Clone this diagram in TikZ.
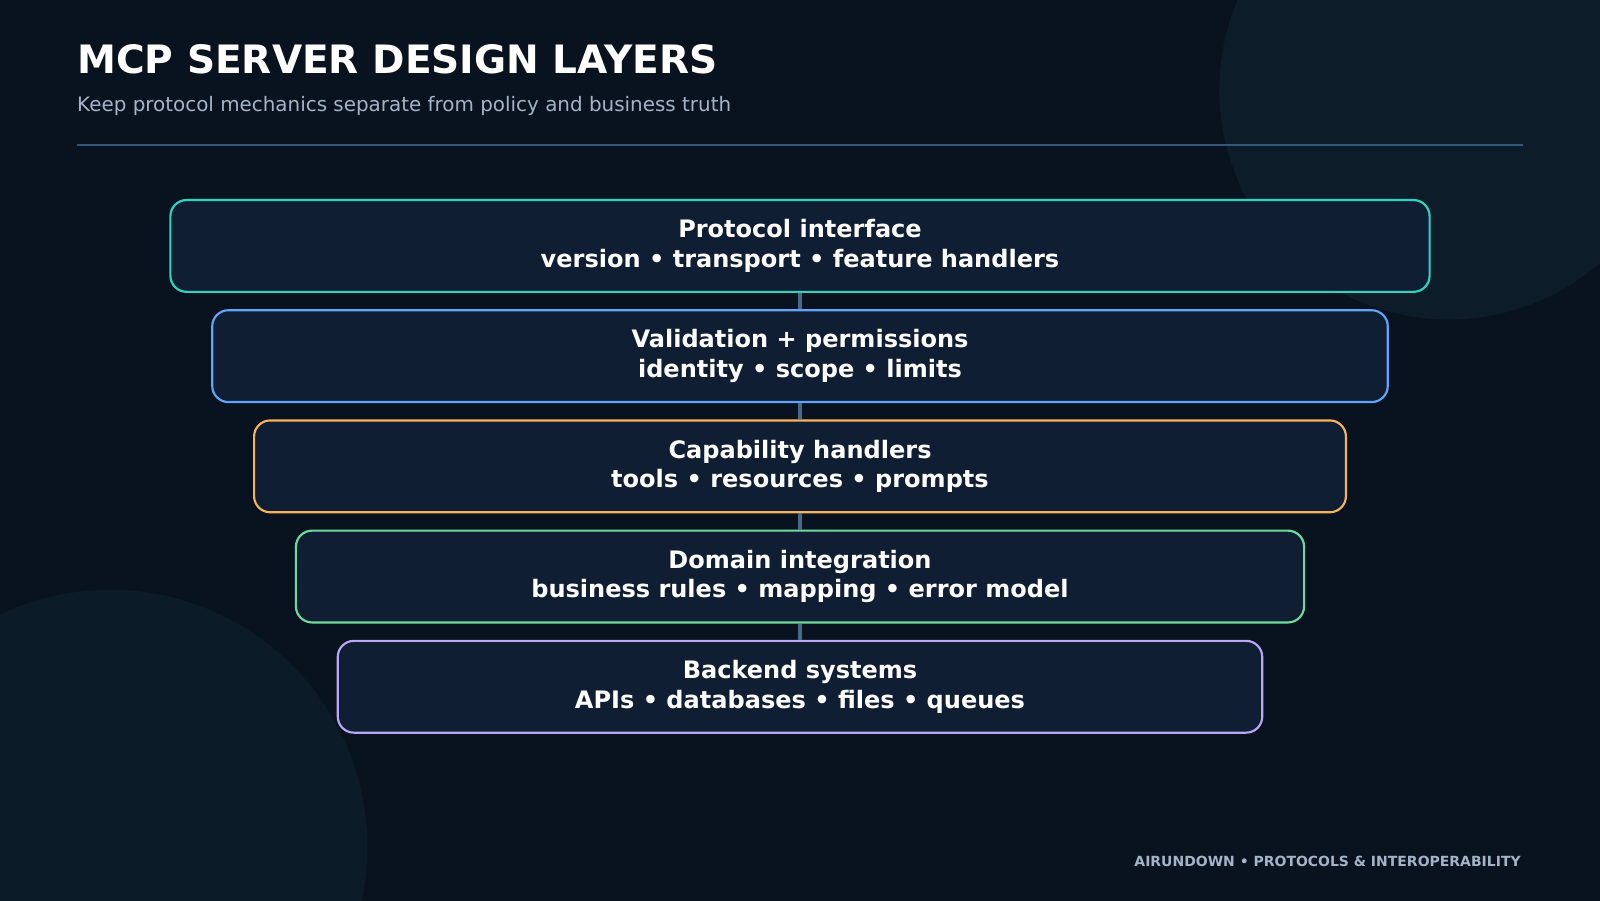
\documentclass[tikz,border=0pt]{standalone}
\usepackage{fontspec}
\setmainfont{DejaVu Sans}
\usetikzlibrary{positioning}
\definecolor{bgdark}{HTML}{09131F}
\definecolor{bgcirc}{HTML}{0C1D29}
\definecolor{boxfill}{HTML}{0F1E33}
\definecolor{rulecol}{HTML}{35587A}
\definecolor{linkcol}{HTML}{4A6A88}
\definecolor{subcol}{HTML}{A3B3C8}
\definecolor{cteal}{HTML}{2DD4BF}
\definecolor{cblue}{HTML}{60A5FA}
\definecolor{corange}{HTML}{F6B35A}
\definecolor{cgreen}{HTML}{6EDB9A}
\definecolor{cpurple}{HTML}{B9A6F5}
\tikzset{
  layer/.style={draw=#1, line width=0.6pt, fill=boxfill, rounded corners=4.5pt,
    minimum height=0.9cm, align=center, text=white,
    font=\fontsize{6.7}{8.2}\selectfont\bfseries},
  link/.style={draw=linkcol, line width=1.2pt}
}
\begin{document}
\begin{tikzpicture}
\useasboundingbox (0,0) rectangle (15.68,-8.82);
\fill[bgdark] (-0.1,0.1) rectangle (15.78,-8.92);
\begin{scope}
\clip (0,0) rectangle (15.68,-8.82);
\fill[bgcirc] (14.2,-0.88) circle (2.25);
\fill[bgcirc!80!bgdark] (1.08,-8.3) circle (2.52);
\end{scope}

% heading
\node[anchor=west, text=white, font=\fontsize{10.9}{13}\selectfont\bfseries, inner sep=0] (title) at (0.75,-0.58) {MCP SERVER DESIGN LAYERS};
\node[anchor=west, text=subcol, font=\fontsize{5.55}{6.5}\selectfont, inner sep=0] (sub) at (0.75,-1.04) {Keep protocol mechanics separate from policy and business truth};
\draw[rulecol, line width=0.6pt] (0.75,-1.42) -- (14.93,-1.42);

% layers
\node[layer=cteal, minimum width=12.34cm] (proto) at (7.84,-2.41) {Protocol interface\\version • transport • feature handlers};
\node[layer=cblue, minimum width=11.52cm] (valid) at (7.84,-3.49) {Validation + permissions\\identity • scope • limits};
\node[layer=corange, minimum width=10.70cm] (capab) at (7.84,-4.57) {Capability handlers\\tools • resources • prompts};
\node[layer=cgreen, minimum width=9.88cm] (domain) at (7.84,-5.65) {Domain integration\\business rules • mapping • error model};
\node[layer=cpurple, minimum width=9.06cm] (backend) at (7.84,-6.73) {Backend systems\\APIs • databases • files • queues};

\draw[link] (proto) -- (valid);
\draw[link] (valid) -- (capab);
\draw[link] (capab) -- (domain);
\draw[link] (domain) -- (backend);

% footer
\node[anchor=east, text=subcol, font=\fontsize{3.9}{5}\selectfont\bfseries, inner sep=0] (foot) at (14.91,-8.44) {AIRUNDOWN • PROTOCOLS \& INTEROPERABILITY};
\end{tikzpicture}
\end{document}
